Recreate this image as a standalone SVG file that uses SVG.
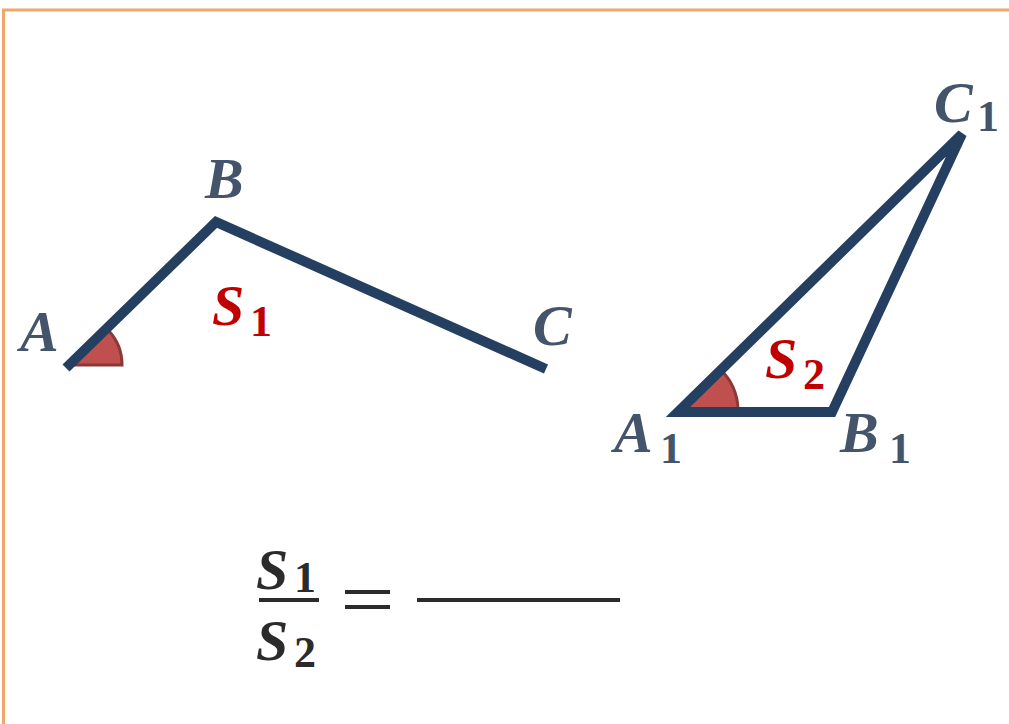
<svg xmlns="http://www.w3.org/2000/svg" width="1009" height="724" viewBox="0 0 1009 724">
<style>
.seg{stroke:#243f60;stroke-width:10;fill:none;stroke-linejoin:miter}
.ang{fill:#c0504d;stroke:#8c3836;stroke-width:3}
.lbl{font-family:"Liberation Serif",serif;font-weight:bold;font-style:italic;fill:#44546a;font-size:58px}
.sub{font-family:"Liberation Serif",serif;font-weight:bold;fill:#44546a;font-size:44px}
.red{fill:#c00000}
.dk{fill:#2b2b2b}
</style>
<rect x="3.5" y="10" width="1020" height="730" fill="#ffffff" stroke="#f0a868" stroke-width="3"/>
<g id="angleA"><path class="ang" d="M72,365 L108,330 A50,50 0 0 1 122,365 Z"/></g>
<g id="angleA1"><path class="ang" d="M680,409 L721,370 A58,58 0 0 1 738,409 Z"/></g>
<g id="connectors">
<polyline class="seg" points="66,368 216,222 546,369"/>
<polygon class="seg" points="678,412 832,412 962,134"/>
</g>
<g id="labels">
<text class="lbl" x="20" y="351">A</text>
<text class="lbl" x="205" y="198">B</text>
<text class="lbl" x="533" y="345">C</text>
<g id="S1"><text class="lbl red" x="212" y="325">S</text><text class="sub red" x="250" y="336">1</text></g>
<g id="C1"><text class="lbl" x="934" y="122">C</text><text class="sub" x="977" y="131">1</text></g>
<g id="A1"><text class="lbl" x="614" y="452">A</text><text class="sub" x="660" y="463">1</text></g>
<g id="B1"><text class="lbl" x="840" y="452">B</text><text class="sub" x="889" y="463">1</text></g>
<g id="S2"><text class="lbl red" x="765" y="378">S</text><text class="sub red" x="803" y="389">2</text></g>
</g>
<g id="formula">
<text class="lbl dk" x="256" y="589">S</text><text class="sub dk" x="294" y="592">1</text>
<line x1="259" y1="600" x2="319" y2="600" stroke="#2b2b2b" stroke-width="4"/>
<text class="lbl dk" x="256" y="660">S</text><text class="sub dk" x="294" y="667">2</text>
<line x1="345" y1="592" x2="390" y2="592" stroke="#2b2b2b" stroke-width="4"/>
<line x1="345" y1="607" x2="390" y2="607" stroke="#2b2b2b" stroke-width="4"/>
<line x1="417" y1="600" x2="620" y2="600" stroke="#2b2b2b" stroke-width="4"/>
</g>
</svg>
